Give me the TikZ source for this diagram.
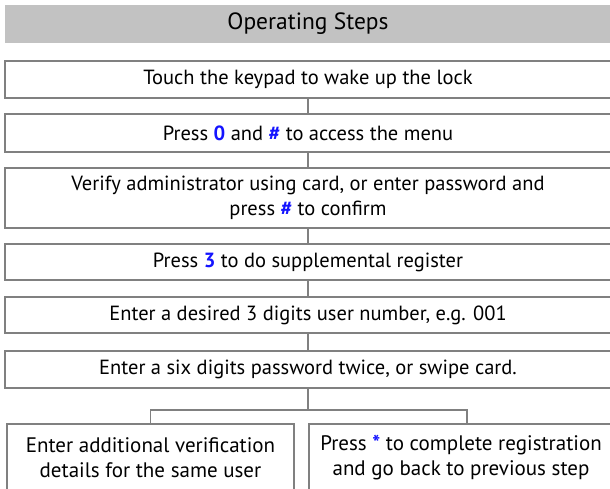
\documentclass[tikz,border=0pt]{standalone}
\usepackage{fontspec}
\setmainfont{PT Sans}
\definecolor{keyblue}{RGB}{20,20,255}
\definecolor{boxgray}{RGB}{128,128,128}
\definecolor{headgray}{RGB}{194,194,194}
\newcommand{\keyb}[1]{\textcolor{keyblue}{\textbf{#1}}}
\begin{document}
\begin{tikzpicture}[x=1pt,y=-1pt,
    stepbox/.style={draw=boxgray, line width=1.2pt, fill=white, inner sep=0pt,
        minimum width=606pt, align=center, font=\fontsize{20.5}{25}\selectfont},
    endbox/.style={stepbox, minimum height=68pt, font=\fontsize{21}{25}\selectfont},
    link/.style={boxgray, line width=1.2pt}]
    \useasboundingbox[fill=white] (0,0) rectangle (610,489);
    \node[fill=headgray, minimum width=606pt, minimum height=38pt, font=\fontsize{23.5}{28}\selectfont] (head) at (308,24) {Operating Steps};
    \node[stepbox, minimum height=37pt] (wake) at (308,79.5) {Touch the keypad to wake up the lock};
    \node[stepbox, minimum height=38pt] (menu) at (308,133) {Press \keyb{0} and \keyb{\#} to access the menu};
    \node[stepbox, minimum height=60pt] (admin) at (308,198) {Verify administrator using card, or enter password and\\press \keyb{\#} to confirm};
    \node[stepbox, minimum height=36pt] (supp) at (308,262) {Press \keyb{3} to do supplemental register};
    \node[stepbox, minimum height=36pt] (usernum) at (308,315) {Enter a desired 3 digits user number, e.g. 001};
    \node[stepbox, minimum height=37pt] (cred) at (308,369.5) {Enter a six digits password twice, or swipe card.};
    \node[endbox, minimum width=287pt] (more) at (150.5,458) {Enter additional verification\\details for the same user};
    \node[endbox, minimum width=304pt] (done) at (461,458) {Press \keyb{*} to complete registration\\and go back to previous step};
    \coordinate (split) at (308,410);
    \draw[link] (wake) -- (menu);
    \draw[link] (menu) -- (admin);
    \draw[link] (admin) -- (supp);
    \draw[link] (supp) -- (usernum);
    \draw[link] (usernum) -- (cred);
    \draw[link] (cred) -- (split);
    \draw[link] (more.north) |- (split) -| ([xshift=6pt]done.north);
\end{tikzpicture}
\end{document}
